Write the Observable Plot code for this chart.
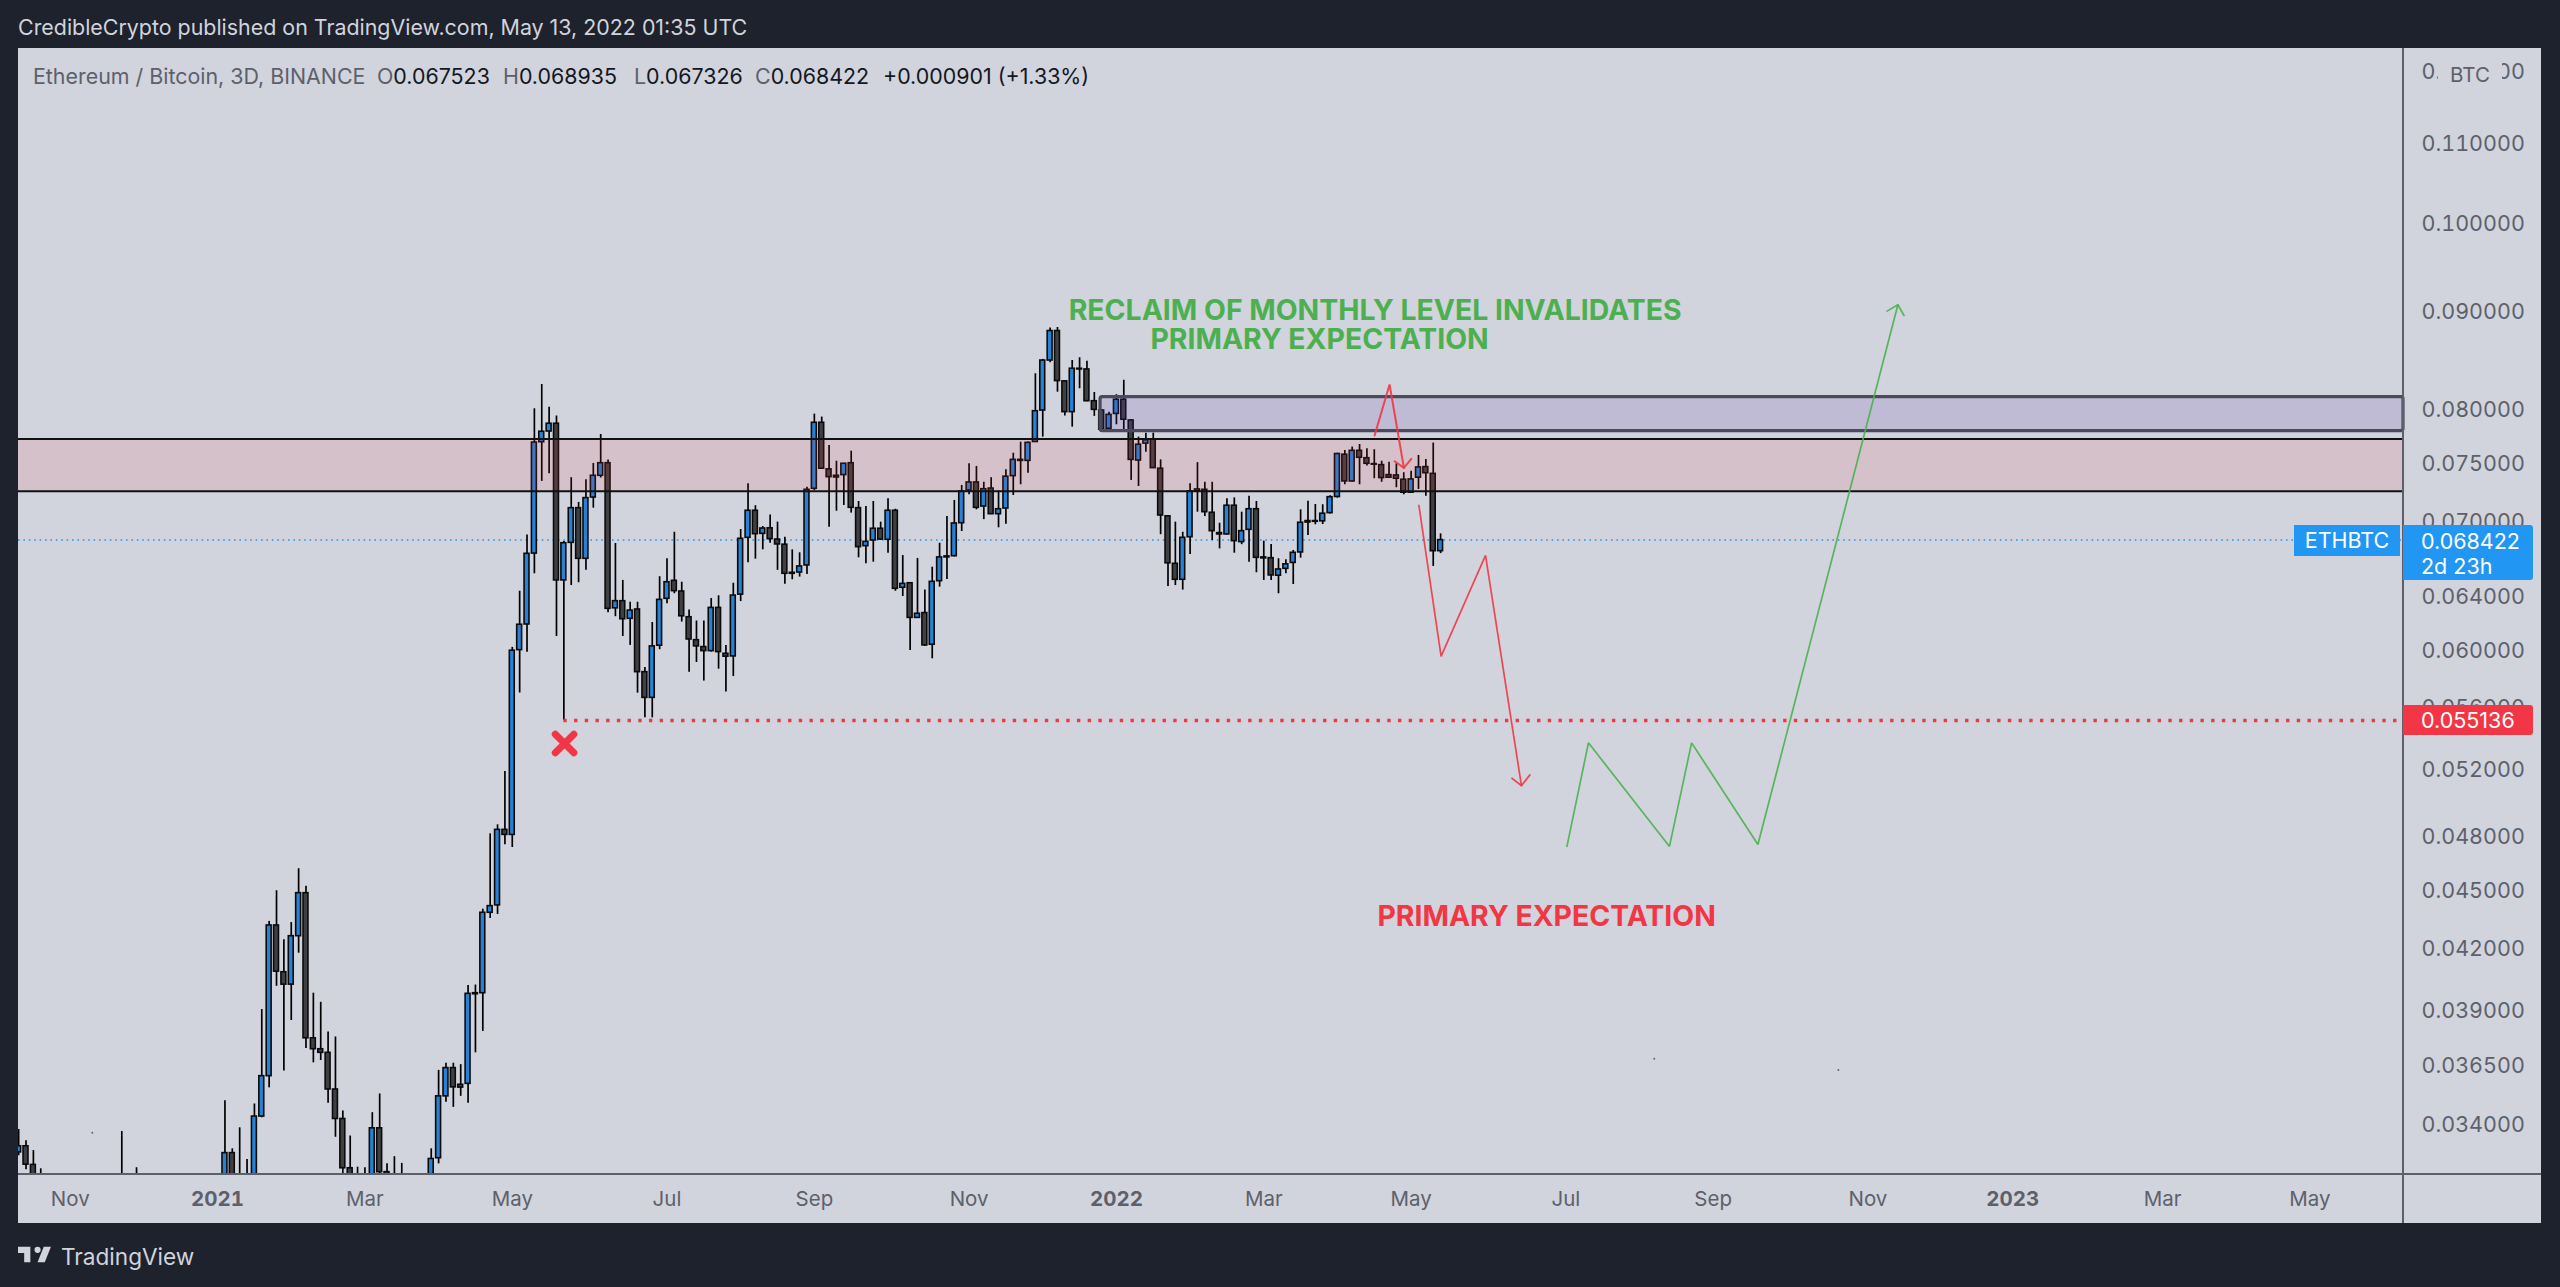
<!DOCTYPE html>
<html>
<head>
<meta charset="utf-8">
<script src="https://cdn.jsdelivr.net/npm/d3@7"></script>
<script src="https://cdn.jsdelivr.net/npm/@observablehq/plot@0.6"></script>
<style>
html,body{margin:0;padding:0;background:#1e222d;width:2560px;height:1287px;overflow:hidden}
body{position:relative;font-family:Inter,"Noto Sans",sans-serif}
.abs{position:absolute;white-space:pre;line-height:1}
#chart{position:absolute;left:18px;top:47px}
#chart svg{display:block;overflow:visible}
.line{position:absolute;background:#5d606b}
.tag{position:absolute;color:#fff;font-size:21.5px;border-radius:0 3px 3px 0;box-sizing:border-box}
.g{color:#5d606b}.k{color:#131722}
.leg{font-size:21.4px;top:66px}
</style>
</head>
<body>
<div class="abs" id="pub" style="left:18px;top:17px;font-size:21.4px;color:#d1d4dc">CredibleCrypto published on TradingView.com, May 13, 2022 01:35 UTC</div>
<div id="chart"></div>
<div class="abs" style="left:18px;top:47px;width:2523px;height:1px;background:#1e222d"></div>
<div class="line" style="left:2402px;top:48px;width:2px;height:1175px"></div>
<div class="line" style="left:18px;top:1173px;width:2523px;height:2px"></div>
<div class="abs g leg" style="left:33px">Ethereum / Bitcoin, 3D, BINANCE</div>
<div class="abs g leg" style="left:377px">O<span class="k">0.067523</span></div>
<div class="abs g leg" style="left:503px">H<span class="k">0.068935</span></div>
<div class="abs g leg" style="left:634px">L<span class="k">0.067326</span></div>
<div class="abs g leg" style="left:755px">C<span class="k">0.068422</span></div>
<div class="abs k leg" style="left:883px">+0.000901 (+1.33%)</div>
<div class="abs g" style="left:2438px;top:60px;width:64px;height:30px;line-height:30px;text-align:center;background:#d1d4dc;font-size:20.5px">BTC</div>
<div class="tag" style="left:2294px;top:525px;width:106px;height:31px;line-height:31px;text-align:center;background:#2196f3;border-radius:0">ETHBTC</div>
<div class="tag" style="left:2403px;top:525px;width:130px;height:55px;background:#2196f3;padding:4px 0 0 18px;line-height:25px">0.068422<br>2d 23h</div>
<div class="tag" style="left:2403px;top:705px;width:130px;height:30px;line-height:30px;background:#f23645;padding-left:18px">0.055136</div>
<svg class="abs" style="left:18px;top:1246px" width="35" height="17" viewBox="2 6 34 15"><path fill="#d1d4dc" d="M14 6H2v6h6v9h6V6Zm14 15h-7l6-15h7l-6 15Zm-7-9a3 3 0 1 0 0-6 3 3 0 0 0 0 6Z"/></svg>
<div class="abs" style="left:61px;top:1246px;font-size:22.6px;color:#d1d4dc">TradingView</div>
<script>
// 3-day candles, oldest first; the newest opens 2022-05-13. null = entirely below the visible range.
const opens = [
.03288,.03312,.03239,.0317,
null,null,null,null,null,null,null,null,null,null,
.0317,null,.0317,
null,null,null,null,null,null,null,null,null,null,null,
.0317,.03285,.0319,.0318,.0319,
.03432,.03602,.04314,.04079,.04019,.04259,.04484,.03769,.0372,.03704,
.03545,.03422,.03226,.0318,.0318,.0318,.03384,.03211,.0318,.0317,
null,null,null,
.0318,.03265,.03516,.03637,.03565,.03569,.03978,
.03978,.0438,.04419,.04837,.04808,.05998,.06185,.06733,.07693,.07792,
.07865,.0652,.0682,.07109,.06691,.072,.0739,.07502,.06306,.0636,
.06227,.06297,.05842,.05665,.0603,.06378,.06517,.06434,.06239,.0607,
.0602,.05991,.06309,.05972,.05953,.0641,.06861,.07087,.06894,.0694,
.06847,.06805,.0658,.06582,.06638,.07276,.07874,.07447,.0739,.07396,
.07502,.07109,.06793,.06839,.06936,.06845,.07087,.06463,.06498,.06234,
.0627,.06037,.06514,.0671,.06712,.06982,.07261,.07331,.07123,.07278,
.07058,.07106,.07387,.07532,.07523,.07695,.0799,.08483,.08788,.08274,
.07975,.084,.08393,.0808,.0799,.07818,.07958,.08094,.07896,.07526,
.0768,.07718,.07453,.0704,.06651,.06525,.06866,.07253,.07267,.0707,
.069,.06889,.0713,.06826,.06927,.071,.06702,.06696,.06557,.06611,
.06658,.06742,.07,.07,.06998,.07067,.07205,.07579,.0734,.07614,
.07547,.07494,.07485,.07396,.07393,.07355,.07242,.07373,.07467,.07407,.067523];
const highs = [
.03379,.03334,.03295,.03224,
null,null,null,null,null,null,null,null,null,null,
.03371,null,.03228,
null,null,null,null,null,null,null,null,null,null,null,
.03498,.03302,.03386,.0326,.03484,
.03901,.04335,.04497,.04241,.04329,.04617,.04521,.03978,.03935,.03798,
.03775,.03455,.03353,.0323,.03228,.03448,.03526,.03243,.03271,.03245,
null,null,null,
.03302,.03627,.03658,.03658,.03652,.04015,.04017,
.04399,.04814,.04866,.05187,.06018,.06436,.06885,.08007,.08243,.08022,
.07938,.0683,.07373,.07158,.07356,.075,.07764,.07532,.06815,.0652,
.06352,.06352,.05874,.062,.06549,.06691,.06907,.06506,.06294,.06211,
.06211,.0638,.06401,.06032,.06498,.0693,.0732,.0713,.06955,.07051,
.06991,.06866,.06763,.06739,.0729,.07956,.07928,.07662,.0752,.075,
.07611,.07166,.07123,.07166,.06991,.07189,.071,.06717,.065,.06694,
.06445,.06624,.06817,.07038,.07175,.07305,.07497,.07473,.07333,.07373,
.07256,.07444,.07592,.07693,.07695,.0835,.08495,.0882,.08825,.0828,
.08483,.08512,.08475,.08165,.08,.07973,.08143,.08285,.07905,.0774,
.07777,.07777,.07532,.07047,.06991,.06907,.0732,.07507,.07333,.07333,
.06982,.07189,.07197,.07075,.07212,.07166,.06834,.06807,.06691,.06683,
.06758,.07095,.07169,.0714,.07138,.07215,.07592,.07617,.07648,.07672,
.07633,.07624,.0752,.07511,.07497,.07417,.07431,.07572,.07535,.07685,.068935];
const lows = [
.03275,.0322,.0314,.0313,
null,null,null,null,null,null,null,null,null,null,
.0314,null,.0315,
null,null,null,null,null,null,null,null,null,null,null,
.0314,.0314,.0315,.0315,.0316,
.03427,.03552,.04011,.03624,.0385,.04173,.03723,.0366,.0367,.03487,
.03348,.0317,.0314,.0315,.0315,.0315,.0317,.0315,.0315,.0314,
null,null,null,
.0316,.03243,.03491,.0347,.03516,.03487,.03704,
.038,.0435,.04371,.04752,.04736,.05698,.05982,.06572,.0734,.07408,
.06097,.05514,.0648,.06502,.06599,.07109,.0737,.06272,.06243,.06097,
.06032,.05697,.05531,.05531,.06001,.0634,.06417,.06203,.05842,.0591,
.0578,.05984,.05863,.05704,.05812,.06357,.0666,.06688,.06763,.06817,
.06599,.0649,.06525,.06546,.06567,.07261,.0745,.06949,.07083,.07132,
.07067,.06699,.06651,.06664,.06839,.06736,.06436,.06396,.05996,.0623,
.06025,.05936,.06468,.06528,.06705,.06913,.07224,.07095,.07012,.07055,
.06944,.06974,.07218,.07311,.07413,.0769,.0774,.0846,.08168,.07938,
.07833,.08201,.08075,.07935,.07802,.07815,.07855,.07802,.07349,.07296,
.07601,.07455,.06887,.06472,.0648,.06445,.06726,.07075,.07038,.06839,
.06771,.06885,.06736,.06805,.06664,.0658,.0652,.0652,.06417,.06572,
.06488,.06696,.0688,.06969,.06971,.0706,.07195,.07311,.07335,.07311,
.07476,.07364,.07333,.0737,.07285,.07224,.0724,.0727,.07212,.0663,.067326];
const closes = [
.03312,.0324,.0316,.0315,
null,null,null,null,null,null,null,null,null,null,
.0316,null,.0316,
null,null,null,null,null,null,null,null,null,null,null,
.03285,.0317,.0318,.0317,.03432,
.03602,.04314,.04082,.04019,.04259,.04484,.03769,.0372,.03704,.03545,
.03422,.03226,.0316,.0317,.0317,.03384,.03211,.0317,.0317,.0316,
null,null,null,
.03262,.03516,.03637,.03554,.03553,.03975,.03973,
.0438,.04415,.04837,.04808,.05994,.06183,.06731,.0769,.0779,.07865,
.0652,.06817,.07109,.06691,.07195,.0739,.07502,.06302,.0636,.06224,
.06289,.05842,.05665,.06025,.0637,.06506,.06437,.06246,.06075,.06025,
.05991,.06309,.05984,.05951,.06403,.06853,.07087,.06891,.06938,.0685,
.06807,.06572,.06572,.0663,.07267,.07874,.07453,.07378,.07375,.07497,
.07112,.06785,.06828,.06936,.06847,.07087,.06455,.06493,.06234,.06265,
.06032,.06509,.06702,.06702,.0698,.07253,.07331,.07112,.07272,.07058,
.071,.07382,.07532,.07523,.07687,.07984,.08483,.08788,.08277,.07975,
.084,.08393,.0808,.07997,.07809,.07949,.08094,.07903,.07532,.0767,
.07711,.07458,.07047,.06655,.06525,.06861,.07253,.0727,.07075,.06916,
.06889,.0713,.06834,.06916,.071,.06699,.06694,.06559,.06606,.06647,
.06739,.06986,.06988,.06994,.07062,.07203,.07585,.0734,.07614,.07551,
.07497,.07489,.0737,.07373,.07364,.07242,.07358,.07464,.07413,.06752,.068422];

const lastBar = Date.UTC(2022, 4, 13);
const dayMs = 86400000;
const bars = d3.range(opens.length).filter(i => opens[i] != null).map(i => {
  const t = lastBar - (opens.length - 1 - i) * 3 * dayMs;
  return {t: new Date(t), t1: new Date(t - dayMs), t2: new Date(t + dayMs),
          open: opens[i], high: highs[i], low: lows[i], close: closes[i]};
});

const priceTicks = [.12,.11,.1,.09,.08,.075,.07,.064,.06,.056,.052,.048,.045,.042,.039,.0365,.034];
const monthDates = ["2020-11-01","2021-03-01","2021-04-30","2021-07-02","2021-08-31","2021-11-02","2022-03-02","2022-05-01","2022-07-03","2022-09-01","2022-11-03","2023-03-03","2023-05-02"];
const monthNames = ["Nov","Mar","May","Jul","Sep","Nov","Mar","May","Jul","Sep","Nov","Mar","May"];
const yearDates = ["2020-12-31","2022-01-01","2023-01-01"];
const yearNames = ["2021","2022","2023"];

const xStart = new Date("2020-10-10T22:30Z"), xEnd = new Date("2023-06-09T02:00Z");
const lastClose = .068422, keyLow = .055136;
const keyLowDate = new Date("2021-05-21T00:00Z");
const supplyZone = {y1: .07255, y2: .07722};
const purpleZone = {x1: new Date("2021-12-25T13:00Z"), y1: .07796, y2: .08119};

const smallRedDates = ["2022-04-16T03:00Z","2022-04-22T05:30Z","2022-04-28T01:30Z"];
const smallRedPrices = [.07755,.08243,.0746];
const smallHeadDates = ["2022-04-24T06:30Z","2022-04-28T01:30Z","2022-05-01T02:00Z"];
const smallHeadPrices = [.0752,.0746,.07541];
const bigRedDates = ["2022-05-04T04:00Z","2022-05-13T05:00Z","2022-05-31T07:00Z","2022-06-14T22:00Z"];
const bigRedPrices = [.07132,.05953,.06718,.051];
const bigHeadDates = ["2022-06-11T01:00Z","2022-06-14T22:00Z","2022-06-18T09:00Z"];
const bigHeadPrices = [.05145,.051,.05166];
const greenDates = ["2022-07-03T11:00Z","2022-07-12T05:00Z","2022-08-14T05:00Z","2022-08-23T05:00Z","2022-09-19T05:00Z","2022-11-15T05:00Z"];
const greenPrices = [.04742,.05368,.04742,.05368,.04753,.09069];
const greenHeadDates = ["2022-11-10T19:00Z","2022-11-15T05:00Z","2022-11-17T17:00Z"];
const greenHeadPrices = [.09,.09069,.08953];
const speckDates = ["2020-11-10","2022-08-08","2022-10-22"];
const speckPrices = [.03366,.03678,.03629];

const red = "#f23645", green = "#4caf50";
const path = (dates, prices, stroke, strokeWidth, opacity = 0.9) =>
  Plot.line(dates.map((d, i) => ({t: new Date(d), p: prices[i]})),
    {x: "t", y: "p", stroke, strokeWidth, strokeOpacity: opacity, strokeLinejoin: "miter", clip: true});
const label = (text, date, price, fill) =>
  Plot.text([text], {x: () => new Date(date), y: () => price, text: d => d, fill, fontSize: 28.4,
    fontWeight: 700, fontFamily: "Inter", textAnchor: "middle"});

const plot = Plot.plot({
  width: 2523, height: 1176,
  marginLeft: 0, marginRight: 138, marginTop: 0, marginBottom: 49,
  style: {background: "#d1d4dc", fontFamily: "Inter", fontSize: "20.5px", color: "#5d606b", overflow: "visible"},
  x: {type: "utc", domain: [xStart, xEnd], label: null},
  y: {type: "log", domain: [.03202, .12339], label: null},
  marks: [
    Plot.ruleY([lastClose], {stroke: "#2196f3", strokeWidth: 1.5, strokeDasharray: "1.6 3.8"}),
    Plot.ruleX(bars, {x: "t", y1: "low", y2: "high", stroke: "#000", strokeWidth: 1.7, clip: true}),
    Plot.rect(bars.filter(b => b.close >= b.open), {x1: "t1", x2: "t2", y1: "open", y2: "close", fill: "#2781d4", stroke: "#0a0a0a", strokeWidth: 1.6, clip: true}),
    Plot.rect(bars.filter(b => b.close < b.open), {x1: "t1", x2: "t2", y1: "open", y2: "close", fill: "#404044", stroke: "#0a0a0a", strokeWidth: 1.6, clip: true}),
    Plot.rect([supplyZone], {x1: () => xStart, x2: () => xEnd, y1: "y1", y2: "y2", fill: red, fillOpacity: 0.12}),
    Plot.ruleY([supplyZone.y1, supplyZone.y2], {stroke: "#111", strokeWidth: 2}),
    Plot.rect([purpleZone], {x1: "x1", x2: () => xEnd, y1: "y1", y2: "y2", fill: "#673ab7", fillOpacity: 0.16, stroke: "#4a4a5a", strokeWidth: 3.2, rx: 2}),
    Plot.ruleY([keyLow], {x1: () => keyLowDate, x2: () => xEnd, stroke: red, strokeWidth: 3.4, strokeDasharray: "3.4 7.3"}),
    Plot.dot([{t: new Date("2021-05-21T07:00Z"), p: .05364}], {x: "t", y: "p", symbol: "times", r: 8.5, stroke: red, strokeWidth: 7, strokeLinecap: "round"}),
    Plot.dot(speckDates.map((d, i) => ({t: new Date(d), p: speckPrices[i]})), {x: "t", y: "p", r: 1, fill: "#666"}),
    path(smallRedDates, smallRedPrices, red, 2),
    path(smallHeadDates, smallHeadPrices, red, 2),
    path(bigRedDates, bigRedPrices, red, 1.7),
    path(bigHeadDates, bigHeadPrices, red, 1.7),
    path(greenDates, greenPrices, green, 1.7),
    path(greenHeadDates, greenHeadPrices, green, 1.7),
    label("RECLAIM OF MONTHLY LEVEL INVALIDATES", "2022-04-16T08:00Z", .09007, green),
    label("PRIMARY EXPECTATION", "2022-03-24T17:30Z", .08699, green),
    label("PRIMARY EXPECTATION", "2022-06-25T04:00Z", .0436, red),
    Plot.axisY({anchor: "right", ticks: priceTicks, tickSize: 0, tickPadding: 18, dy: 1, tickFormat: d => d.toFixed(6), label: null, fill: "#5d606b", textAnchor: "start", fontSize: 21.5}),
    Plot.axisX({anchor: "bottom", ticks: monthDates.map(d => new Date(d)), tickSize: 0, tickPadding: 17,
      tickFormat: d => monthNames[monthDates.indexOf(d.toISOString().slice(0, 10))], label: null, fill: "#5d606b", fontSize: 20.5}),
    Plot.axisX({anchor: "bottom", ticks: yearDates.map(d => new Date(d)), tickSize: 0, tickPadding: 17,
      tickFormat: d => yearNames[yearDates.indexOf(d.toISOString().slice(0, 10))], label: null, fill: "#5d606b", fontSize: 20.5, fontWeight: 700})
  ]
});
document.getElementById("chart").appendChild(plot);
</script>
</body>
</html>
